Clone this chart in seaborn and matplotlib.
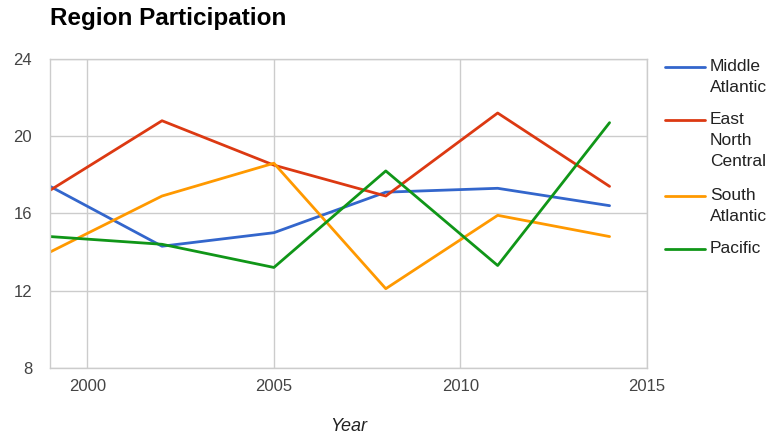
import pandas as pd
import matplotlib.pyplot as plt
import seaborn as sns
from matplotlib.lines import Line2D

years = [1999, 2002, 2005, 2008, 2011, 2014]
middle_atlantic = [17.4, 14.3, 15.0, 17.1, 17.3, 16.4]
east_north_central = [17.2, 20.8, 18.5, 16.9, 21.2, 17.4]
south_atlantic = [14.0, 16.9, 18.6, 12.1, 15.9, 14.8]
pacific = [14.8, 14.4, 13.2, 18.2, 13.3, 20.7]

regions = ["Middle\nAtlantic", "East\nNorth\nCentral", "South\nAtlantic", "Pacific"]
colors = ["#3366CC", "#DC3912", "#FF9900", "#109618"]

W, H = 771, 440


def main():
    df = pd.DataFrame({
        "Year": years * 4,
        "Value": middle_atlantic + east_north_central + south_atlantic + pacific,
        "Region": [r for r in regions for _ in years],
    })

    sns.set_style("white")
    plt.rcParams["font.family"] = ["Liberation Sans", "DejaVu Sans"]

    fig = plt.figure(figsize=(W / 100, H / 100), dpi=100)
    ax = fig.add_axes([0.065, 0.164, 0.774, 0.702])

    sns.lineplot(data=df, x="Year", y="Value", hue="Region", palette=colors,
                 linewidth=2.0, ax=ax, legend=False)

    ax.set_xlim(1999, 2015)
    ax.set_ylim(8, 24)
    ax.set_xticks([2000, 2005, 2010, 2015])
    ax.set_yticks([8, 12, 16, 20, 24])
    ax.grid(True, color="#cccccc", linewidth=1)
    for s in ax.spines.values():
        s.set_color("#cccccc")
        s.set_linewidth(1)
    ax.tick_params(axis="x", length=0, labelsize=12, colors="#444444", pad=8)
    ax.tick_params(axis="y", length=0, labelsize=12, colors="#444444", pad=13)
    ax.set_ylabel("")
    ax.set_xlabel("Year", fontsize=13, style="italic", color="#222222", labelpad=17)

    fig.text(50 / W, 1 - 18 / H, "Region Participation", fontsize=17.5, fontweight="bold",
             color="black", ha="left", va="center")

    # legend drawn by hand so the key lines sit on the first text line
    y = 67
    for label, c in zip(regions, colors):
        fig.add_artist(Line2D([665 / W, 705 / W], [1 - y / H, 1 - y / H],
                              color=c, linewidth=2.0, transform=fig.transFigure))
        fig.text(710 / W, 1 - (y - 8) / H, label, fontsize=12.5, color="#222222",
                 ha="left", va="top", linespacing=1.5)
        y += 23 * (label.count("\n") + 1) + 7

    fig.savefig("out.png", dpi=100)


if __name__ == "__main__":
    main()
